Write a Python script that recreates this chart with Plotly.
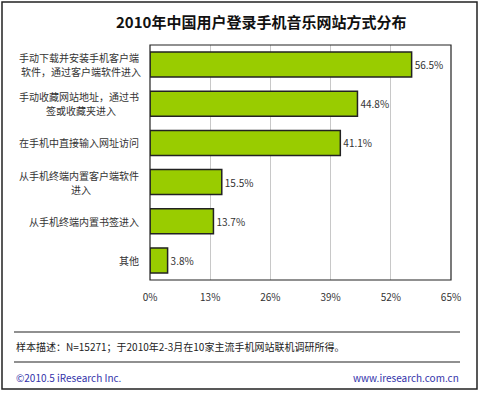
import plotly.graph_objects as go

categories = [
    "手动下载并安装手机客户端<br>软件，通过客户端软件进入",
    "手动收藏网站地址，通过书<br>签或收藏夹进入",
    "在手机中直接输入网址访问",
    "从手机终端内置客户端软件<br>进入",
    "从手机终端内置书签进入",
    "其他",
]
values = [56.5, 44.8, 41.1, 15.5, 13.7, 3.8]
tick_vals = [0, 13, 26, 39, 52, 65]
tick_text = ["0%", "13%", "26%", "39%", "52%", "65%"]

W, H = 480, 393
L, R, T, B = 150, 451, 45, 280
FONT = "Noto Sans CJK SC, Century Gothic, DejaVu Sans, sans-serif"

def px(x):
    return (x - L) / (R - L)

def py(y):
    return (B - y) / (B - T)

fig = go.Figure()
fig.add_trace(go.Bar(
    y=categories, x=values, orientation="h",
    marker=dict(color="#99CC00", line=dict(color="#222222", width=1.5)),
    texttemplate="%{x:.1f}%", textposition="outside",
    textfont=dict(size=10, color="#333333", family=FONT),
    cliponaxis=False, hoverinfo="skip",
))

annotations = []
for c in categories:
    lines = c.split("<br>")
    n = len(lines)
    for i, ln in enumerate(lines):
        shift = (n - 1) * 7 - i * 14
        annotations.append(dict(
            x=px(141), xref="paper", y=c, yref="y", text=ln, showarrow=False,
            xanchor="right" if i == 0 else "center", yanchor="middle",
            yshift=shift,
            font=dict(size=10, color="#333333", family=FONT),
        ))
# center the continuation lines under the first line
first_widths = {}
for a in annotations:
    pass

annotations += [
    dict(x=px(261), y=py(22), xref="paper", yref="paper",
         text="<b>2010年中国用户登录手机音乐网站方式分布</b>", showarrow=False,
         xanchor="center", yanchor="middle",
         font=dict(size=15, color="#111111", family=FONT)),
    dict(x=px(14), y=py(346), xref="paper", yref="paper",
         text="样本描述：N=15271；于2010年2-3月在10家主流手机网站联机调研所得。",
         showarrow=False, xanchor="left", yanchor="middle",
         font=dict(size=10, color="#222222", family=FONT)),
    dict(x=px(14), y=py(377), xref="paper", yref="paper",
         text="©2010.5 iResearch Inc.", showarrow=False,
         xanchor="left", yanchor="middle",
         font=dict(size=10, color="#3333AA", family=FONT)),
    dict(x=px(461), y=py(377), xref="paper", yref="paper",
         text="www.iresearch.com.cn", showarrow=False,
         xanchor="right", yanchor="middle",
         font=dict(size=10, color="#3333AA", family=FONT)),
]

# continuation lines: center them at the middle of the first line (approx width 12 chars * 10px)
for a in annotations:
    if a.get("xanchor") == "center" and a.get("yref") == "y":
        a["x"] = px(141 - 60)

shapes = [
    dict(type="rect", xref="paper", yref="paper",
         x0=px(2), x1=px(477), y0=py(2), y1=py(389),
         line=dict(color="#222222", width=1.5), layer="below"),
    dict(type="line", xref="paper", yref="paper",
         x0=px(14), x1=px(460), y0=py(332), y1=py(332),
         line=dict(color="#222222", width=1.2)),
    dict(type="line", xref="paper", yref="paper",
         x0=px(14), x1=px(460), y0=py(362), y1=py(362),
         line=dict(color="#222222", width=1.2)),
    dict(type="rect", xref="paper", yref="paper",
         x0=0, x1=1, y0=0, y1=1,
         line=dict(color="#222222", width=1.2)),
]

fig.update_layout(
    width=W, height=H,
    margin=dict(l=L, r=W - R, t=T, b=H - B),
    paper_bgcolor="white", plot_bgcolor="white",
    showlegend=False, bargap=0.36,
    annotations=annotations, shapes=shapes,
    xaxis=dict(range=[0, 65], tickvals=tick_vals, ticktext=tick_text,
               showgrid=True, gridcolor="#C8C8C8", gridwidth=1,
               zeroline=False, showline=False, ticks="",
               ticklabelstandoff=10,
               tickfont=dict(size=10, color="#333333", family=FONT),
               fixedrange=True),
    yaxis=dict(autorange="reversed", showticklabels=False, ticks="",
               showgrid=False, zeroline=False, showline=False,
               fixedrange=True),
)

fig.write_html("out.html", config={"displayModeBar": False},
               post_script="document.body.style.margin='0';document.body.style.overflow='hidden';")
